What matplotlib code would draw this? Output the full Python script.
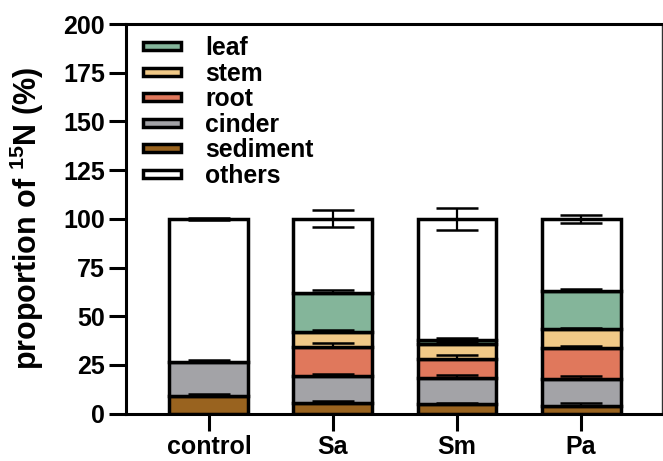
import matplotlib
matplotlib.use("Agg")
import matplotlib.pyplot as plt
from matplotlib.patches import Patch
import numpy as np

plt.rcParams['font.family'] = ['Liberation Sans', 'DejaVu Sans']
plt.rcParams['font.weight'] = 'bold'
plt.rcParams['mathtext.fontset'] = 'custom'
plt.rcParams['mathtext.rm'] = 'Liberation Sans:bold'
plt.rcParams['mathtext.bf'] = 'Liberation Sans:bold'
plt.rcParams['mathtext.default'] = 'bf'

groups = ['control', 'Sa', 'Sm', 'Pa']
components = ['sediment', 'cinder', 'root', 'stem', 'leaf', 'others']

sediment = [9.0, 5.7, 4.8, 4.0]
cinder = [17.5, 13.7, 13.3, 13.7]
root = [0.0, 14.6, 9.9, 15.9]
stem = [0.0, 7.7, 7.7, 9.8]
leaf = [0.0, 20.2, 2.1, 19.4]
others = [73.5, 38.1, 62.2, 37.2]

sediment_err = [1.3, 0.6, 0.6, 1.7]
cinder_err = [1.0, 1.0, 2.0, 1.8]
root_err = [0.0, 2.5, 2.2, 0.9]
stem_err = [0.0, 1.0, 1.2, 0.8]
leaf_err = [0.0, 1.4, 0.8, 1.3]
others_err = [0.6, 4.4, 5.8, 2.0]

colors = {
    'sediment': '#99631F',
    'cinder': '#A3A3A7',
    'root': '#E0785C',
    'stem': '#F1C987',
    'leaf': '#84B59A',
    'others': '#FFFFFF',
}

values = [sediment, cinder, root, stem, leaf, others]
errors = [sediment_err, cinder_err, root_err, stem_err, leaf_err, others_err]

fig = plt.figure(figsize=(6.63, 4.61), dpi=100)
ax = fig.add_axes([126 / 663, 47.3 / 461, 536 / 663, 389.7 / 461])

x = np.arange(len(groups))
width = 0.637
edge_lw = 2.5

for i in range(len(groups)):
    cum = 0.0
    for name, vals, errs in zip(components, values, errors):
        v = vals[i]
        if v <= 0:
            continue
        ax.bar(x[i], v, width, bottom=cum, color=colors[name],
               edgecolor='black', linewidth=edge_lw, zorder=2)
        top = cum + v
        e = errs[i]
        if e > 0:
            if name == 'others':
                yerr = [[e], [e]]
            else:
                yerr = [[0], [e]]
            ax.errorbar(x[i], top, yerr=yerr, fmt='none', ecolor='black',
                        elinewidth=1.6, capsize=14.8, capthick=1.8, zorder=3)
        cum = top

ax.set_xlim(-0.669, 3.653)
ax.set_ylim(0, 200)
ax.set_yticks(np.arange(0, 201, 25))
ax.set_xticks(x)
ax.set_xticklabels(groups)

for s in ['left', 'bottom', 'top']:
    ax.spines[s].set_linewidth(2.2)
ax.spines['right'].set_linewidth(1.0)
ax.spines['right'].set_color('#333333')

ax.tick_params(axis='both', which='major', length=12, width=2.2,
               labelsize=18, pad=3, direction='out')
ax.tick_params(axis='y', right=False)
ax.tick_params(axis='x', top=False)
for lab in ax.get_xticklabels() + ax.get_yticklabels():
    lab.set_fontweight('bold')

ax.set_ylabel('proportion of $^{15}$N (%)', fontsize=22, fontweight='bold')
ax.yaxis.set_label_coords(-0.149, 0.5)

handles = [Patch(facecolor=colors[n], edgecolor='black', linewidth=edge_lw, label=n)
           for n in ['leaf', 'stem', 'root', 'cinder', 'sediment', 'others']]
leg = ax.legend(handles=handles, loc='upper left', bbox_to_anchor=(0.032, 0.968),
                frameon=False, fontsize=17.8, handlelength=1.52, handleheight=0.12,
                handletextpad=1.0, labelspacing=0.06, borderpad=0, borderaxespad=0)
for t in leg.get_texts():
    t.set_fontweight('bold')

fig.savefig('out.png', dpi=100)
